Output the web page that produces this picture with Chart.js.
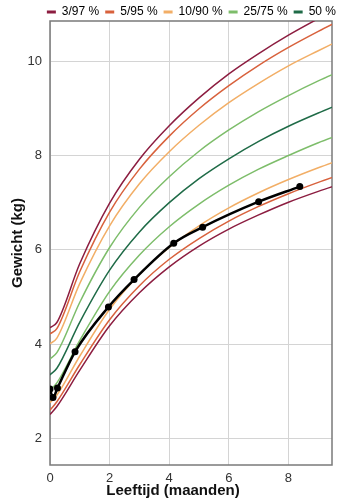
<!DOCTYPE html>
<html>
<head>
<meta charset="utf-8">
<script src="https://cdn.jsdelivr.net/npm/chart.js@4/dist/chart.umd.min.js"></script>
<style>
  html, body { margin: 0; padding: 0; background: #fff; }
  #wrap { width: 346px; height: 500px; }
</style>
</head>
<body>
<div id="wrap"><canvas id="groei"></canvas></div>
<script>
// --- DATA ---
// leeftijd in maanden (geboorte, week 1, daarna per maand)
const ages = [0, 0.23, 1, 2, 3, 4, 5, 6, 7, 8, 9, 10];
const p3  = [2.51, 2.68, 3.45, 4.39, 5.09, 5.64, 6.08, 6.44, 6.74, 7.01, 7.24, 7.45];
const p5  = [2.60, 2.78, 3.57, 4.52, 5.24, 5.80, 6.24, 6.61, 6.92, 7.19, 7.43, 7.65];
const p10 = [2.76, 2.92, 3.75, 4.74, 5.48, 6.05, 6.51, 6.89, 7.21, 7.49, 7.74, 7.97];
const p25 = [3.03, 3.18, 4.08, 5.12, 5.89, 6.49, 6.97, 7.37, 7.71, 8.00, 8.27, 8.51];
const p50 = [3.35, 3.49, 4.47, 5.57, 6.38, 7.00, 7.51, 7.93, 8.30, 8.62, 8.90, 9.16];
const p75 = [3.69, 3.82, 4.89, 6.05, 6.90, 7.55, 8.09, 8.54, 8.93, 9.27, 9.58, 9.86];
const p90 = [4.01, 4.13, 5.29, 6.51, 7.40, 8.08, 8.64, 9.12, 9.53, 9.90, 10.22, 10.53];
const p95 = [4.22, 4.33, 5.54, 6.80, 7.71, 8.41, 8.99, 9.48, 9.91, 10.29, 10.63, 10.95];
const p97 = [4.35, 4.46, 5.71, 6.99, 7.92, 8.63, 9.22, 9.73, 10.16, 10.55, 10.90, 11.23];

// metingen van het kind
const childAge    = [0, 0.1, 0.25, 0.84, 1.96, 2.82, 4.15, 5.12, 7.0, 8.38];
const childWeight = [3.05, 2.87, 3.07, 3.84, 4.79, 5.37, 6.14, 6.48, 7.02, 7.34];

const legendNames = ['3/97 %', '5/95 %', '10/90 %', '25/75 %', '50 %'];
const xTicks = [0, 2, 4, 6, 8];
const yTicks = [2, 4, 6, 8, 10];

// --- STYLE ---
const colors = ['#8c1d40', '#d8613c', '#f2ae66', '#7dbd6a', '#1f6b47'];
const FONT = "'Liberation Sans', Arial, sans-serif";

const curves = [
    { data: p3,  c: 0 }, { data: p97, c: 0 },
    { data: p5,  c: 1 }, { data: p95, c: 1 },
    { data: p10, c: 2 }, { data: p90, c: 2 },
    { data: p25, c: 3 }, { data: p75, c: 3 },
    { data: p50, c: 4 }
];

// kind eerst: dataset 0 wordt bovenop getekend
const datasets = [{
    label: 'kind',
    data: childAge.map((a, i) => ({ x: a, y: childWeight[i] })),
    borderColor: '#000',
    backgroundColor: '#000',
    borderWidth: 2.5,
    pointRadius: 3.5,
    pointBorderWidth: 0,
    cubicInterpolationMode: 'monotone'
}];
curves.forEach(cv => {
    datasets.push({
        label: legendNames[cv.c],
        data: ages.map((a, i) => ({ x: a, y: cv.data[i] })),
        borderColor: colors[cv.c],
        borderWidth: 1.5,
        pointRadius: 0,
        cubicInterpolationMode: 'monotone'
    });
});

// kader rond het plotgebied + titel x-as
const frame = {
    id: 'frame',
    beforeDatasetsDraw(chart) {
        const { ctx, chartArea: a } = chart;
        ctx.save();
        ctx.strokeStyle = '#7a7a7a';
        ctx.lineWidth = 1.5;
        ctx.strokeRect(a.left, a.top, a.right - a.left, a.bottom - a.top);
        ctx.restore();
    },
    afterDraw(chart) {
        const ctx = chart.ctx;
        ctx.save();
        ctx.fillStyle = '#111';
        ctx.font = 'bold 15px ' + FONT;
        ctx.textAlign = 'center';
        ctx.textBaseline = 'middle';
        ctx.fillText('Leeftijd (maanden)', chart.width / 2, 491);
        ctx.restore();
    }
};

new Chart(document.getElementById('groei'), {
    type: 'line',
    data: { datasets },
    plugins: [frame],
    options: {
        responsive: true,
        maintainAspectRatio: false,
        animation: false,
        layout: { padding: { right: 4 } },
        plugins: {
            legend: {
                position: 'top',
                align: 'end',
                maxHeight: 21,
                onClick: null,
                labels: {
                    boxWidth: 9,
                    boxHeight: 3,
                    padding: 6,
                    color: '#222',
                    font: { family: FONT, size: 12 },
                    generateLabels: () => legendNames.map((n, i) => ({
                        text: n, fillStyle: colors[i], strokeStyle: colors[i], lineWidth: 0, datasetIndex: i
                    }))
                }
            },
            tooltip: { enabled: false }
        },
        scales: {
            x: {
                type: 'linear',
                min: 0,
                max: 9.46,
                afterBuildTicks: s => { s.ticks = xTicks.map(v => ({ value: v })); },
                afterFit: s => { s.height = 35; },
                grid: { color: '#d4d4d4', drawTicks: false },
                border: { display: false },
                ticks: { color: '#333', padding: 6, font: { family: FONT, size: 13 } }
            },
            y: {
                min: 1.44,
                max: 10.85,
                afterBuildTicks: s => { s.ticks = yTicks.map(v => ({ value: v })); },
                afterFit: s => { s.width = 50; },
                grid: { color: '#d4d4d4', drawTicks: false },
                border: { display: false },
                ticks: { color: '#333', padding: 8, font: { family: FONT, size: 13 } },
                title: {
                    display: true,
                    text: 'Gewicht (kg)',
                    color: '#111',
                    padding: { top: 9, bottom: 0 },
                    font: { family: FONT, size: 15, weight: 'bold' }
                }
            },
            // lege as rechts, houdt het plotgebied op de juiste breedte
            yRight: {
                position: 'right',
                min: 1.44,
                max: 10.85,
                afterFit: s => { s.width = 10; },
                grid: { display: false },
                border: { display: false },
                ticks: { display: false }
            }
        }
    }
});
</script>
</body>
</html>
